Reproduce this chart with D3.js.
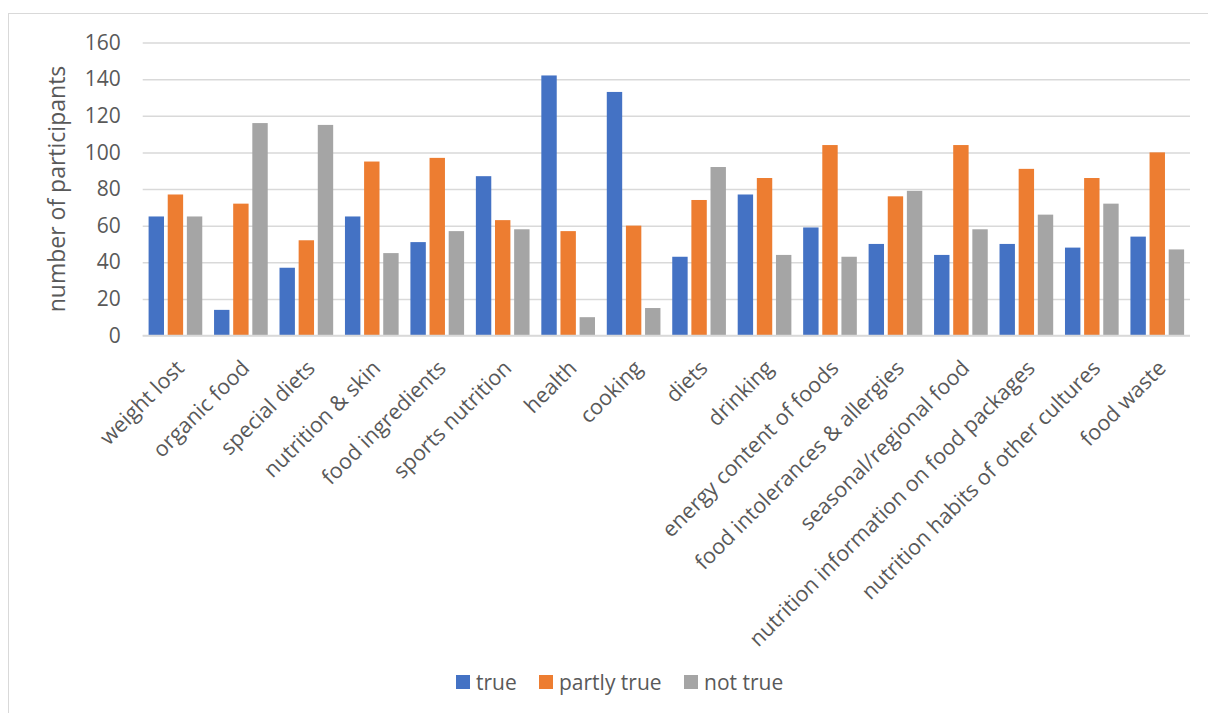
<!DOCTYPE html>
<html>
<head>
<meta charset="utf-8">
<script src="https://cdn.jsdelivr.net/npm/d3@7"></script>
<style>
  html, body { margin: 0; padding: 0; background: #fff; }
  svg { display: block; }
  text { font-family: "Open Sans", "Liberation Sans", sans-serif; fill: #595959; }
</style>
</head>
<body>
<svg id="chart" width="1208" height="713"></svg>
<script>
const categories = ["weight lost", "organic food", "special diets", "nutrition & skin", "food ingredients",
  "sports nutrition", "health", "cooking", "diets", "drinking", "energy content of foods",
  "food intolerances & allergies", "seasonal/regional food", "nutrition information on food packages",
  "nutrition habits of other cultures", "food waste"];
const seriesNames = ["true", "partly true", "not true"];
const trueValues =       [65, 14, 37, 65, 51, 87, 142, 133, 43, 77, 59, 50, 44, 50, 48, 54];
const partlyTrueValues = [77, 72, 52, 95, 97, 63, 57, 60, 74, 86, 104, 76, 104, 91, 86, 100];
const notTrueValues =    [65, 116, 115, 45, 57, 58, 10, 15, 92, 44, 43, 79, 58, 66, 72, 47];
const yTicks = [0, 20, 40, 60, 80, 100, 120, 140, 160];
const colors = ["#4472C4", "#ED7D31", "#A5A5A5"];

const seriesValues = [trueValues, partlyTrueValues, notTrueValues];
const svg = d3.select("#chart");

// chart frame
svg.append("rect").attr("x", 8.5).attr("y", 13.5).attr("width", 1220).attr("height", 720)
  .attr("fill", "none").attr("stroke", "#d9d9d9").attr("stroke-width", 1);

const plotLeft = 142.7, plotRight = 1190, plotTop = 42.5, plotBottom = 335.5;

const x = d3.scaleBand().domain(categories).range([plotLeft, plotRight]).paddingInner(0.18).paddingOuter(0.09);
const xs = d3.scaleBand().domain(seriesNames).range([0, x.bandwidth()]).paddingInner(0.195).paddingOuter(0);
const y = d3.scaleLinear().domain([0, 160]).range([plotBottom, plotTop]);

const fontStack = "'Open Sans', 'Liberation Sans', sans-serif";

// gridlines
const yAxis = d3.axisLeft(y).tickValues(yTicks).tickSize(-(plotRight - plotLeft)).tickPadding(22);
const gy = svg.append("g").attr("transform", `translate(${plotLeft},0)`).call(yAxis);
gy.select(".domain").remove();
gy.selectAll(".tick line").attr("stroke", "#d9d9d9").attr("stroke-width", 1.5);
gy.selectAll(".tick text").attr("font-size", 21).attr("fill", "#595959")
  .style("font-family", fontStack);

// bars
const groups = svg.append("g").selectAll("g").data(categories).join("g")
  .attr("transform", d => `translate(${x(d)},0)`);
groups.selectAll("rect")
  .data((c, i) => seriesNames.map((s, j) => ({ s, v: seriesValues[j][i], j })))
  .join("rect")
  .attr("x", d => xs(d.s))
  .attr("width", xs.bandwidth())
  .attr("y", d => y(d.v))
  .attr("height", d => y(0) - y(d.v))
  .attr("fill", d => colors[d.j]);

// x axis line + labels
const xAxis = d3.axisBottom(x).tickSize(0).tickPadding(0);
const gx = svg.append("g").attr("transform", `translate(0,${plotBottom})`).call(xAxis);
gx.select(".domain").attr("stroke", "#d9d9d9").attr("stroke-width", 1.5)
  .attr("d", `M${plotLeft},0H${plotRight}`);
gx.selectAll(".tick text")
  .attr("font-size", 21.5).attr("fill", "#595959")
  .style("font-family", fontStack)
  .attr("text-anchor", "end")
  .attr("dy", 0)
  .attr("transform", "translate(10,34) rotate(-45)");

// y axis title
svg.append("text")
  .attr("transform", `translate(65,${(plotTop + plotBottom) / 2}) rotate(-90)`)
  .attr("text-anchor", "middle")
  .attr("font-size", 23)
  .text("number of participants");

// legend
const legendItems = [
  { name: "true", x: 456 },
  { name: "partly true", x: 539 },
  { name: "not true", x: 684 }
];
const lg = svg.append("g").selectAll("g").data(legendItems).join("g")
  .attr("transform", d => `translate(${d.x},675)`);
lg.append("rect").attr("width", 14).attr("height", 14).attr("fill", (d, i) => colors[i]);
lg.append("text").attr("x", 20).attr("y", 14.5).attr("font-size", 21).text(d => d.name);
</script>
</body>
</html>
